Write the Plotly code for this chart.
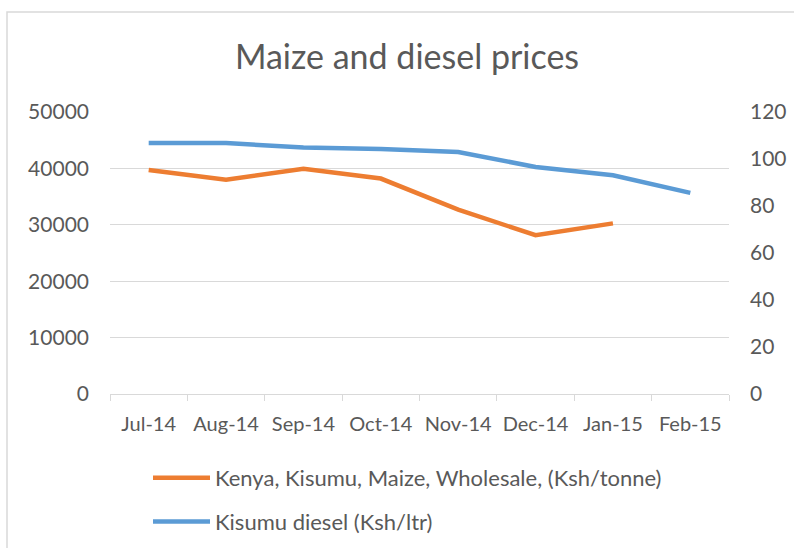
import plotly.graph_objects as go

months = ["Jul-14", "Aug-14", "Sep-14", "Oct-14", "Nov-14", "Dec-14", "Jan-15", "Feb-15"]
maize = [39700, 38000, 39950, 38200, 32700, 28150, 30250, None]
diesel = [106.8, 106.8, 104.9, 104.3, 103.0, 96.6, 93.1, 85.6]

maize_name = "Kenya, Kisumu, Maize, Wholesale, (Ksh/tonne)"
diesel_name = "Kisumu diesel (Ksh/ltr)"

FONT = "Lato, 'Open Sans', sans-serif"
TXT = "#595959"
GRID = "#D9D9D9"

fig = go.Figure()
fig.add_trace(go.Scatter(x=months, y=maize, name=maize_name, mode="lines",
                         line=dict(color="#ED7D31", width=4.5),
                         legendgroup="a", yaxis="y"))
fig.add_trace(go.Scatter(x=months, y=diesel, name=diesel_name, mode="lines",
                         line=dict(color="#5B9BD5", width=4.5),
                         legendgroup="b", yaxis="y2"))

W, H = 794, 548
L, R, T, B = 110, 65, 112, 154
pw, ph = W - L - R, H - T - B

def px_x(p):
    return (p - L) / pw

def px_y(p):
    return (H - B - p) / ph

fig.update_layout(
    width=W, height=H,
    margin=dict(l=L, r=R, t=T, b=B, autoexpand=False),
    paper_bgcolor="white", plot_bgcolor="white",
    font=dict(family=FONT, color=TXT, size=21),
    title=dict(text="Maize and diesel prices", x=407 / W, xanchor="center",
               y=1 - 57 / H, yanchor="middle", yref="container",
               font=dict(size=34, color=TXT, family=FONT)),
    xaxis=dict(type="category", range=[-0.5, len(months) - 0.5],
               showgrid=False, showline=True, linecolor=GRID,
               linewidth=1, ticks="outside", ticklen=6, tickcolor=GRID,
               tickson="boundaries", ticklabelstandoff=12, zeroline=False,
               tickangle=0, automargin=False,
               tickfont=dict(size=20, color=TXT)),
    yaxis=dict(range=[0, 50000], dtick=10000, showgrid=True, gridcolor=GRID,
               gridwidth=1.3, zeroline=False, showline=False, ticks="",
               ticklabelstandoff=20, tickformat="d", automargin=False,
               tickfont=dict(size=21, color=TXT)),
    yaxis2=dict(range=[0, 120], dtick=20, overlaying="y", side="right",
                showgrid=False, zeroline=False, showline=False, ticks="",
                ticklabelstandoff=20, automargin=False,
                tickfont=dict(size=21, color=TXT)),
    legend=dict(orientation="v", x=px_x(148), xanchor="left",
                y=px_y(457), yanchor="top", tracegroupgap=12,
                itemwidth=57, font=dict(size=22, color=TXT),
                bgcolor="rgba(0,0,0,0)"),
    showlegend=True,
    shapes=[dict(type="rect", xref="paper", yref="paper",
                 x0=px_x(7), x1=px_x(805), y0=px_y(560), y1=px_y(12),
                 line=dict(color=GRID, width=1.5), fillcolor="rgba(0,0,0,0)",
                 layer="below")],
)

fig.write_html("out.html", config={"displayModeBar": False},
               post_script="document.body.style.margin='0';document.body.style.overflow='hidden';")
